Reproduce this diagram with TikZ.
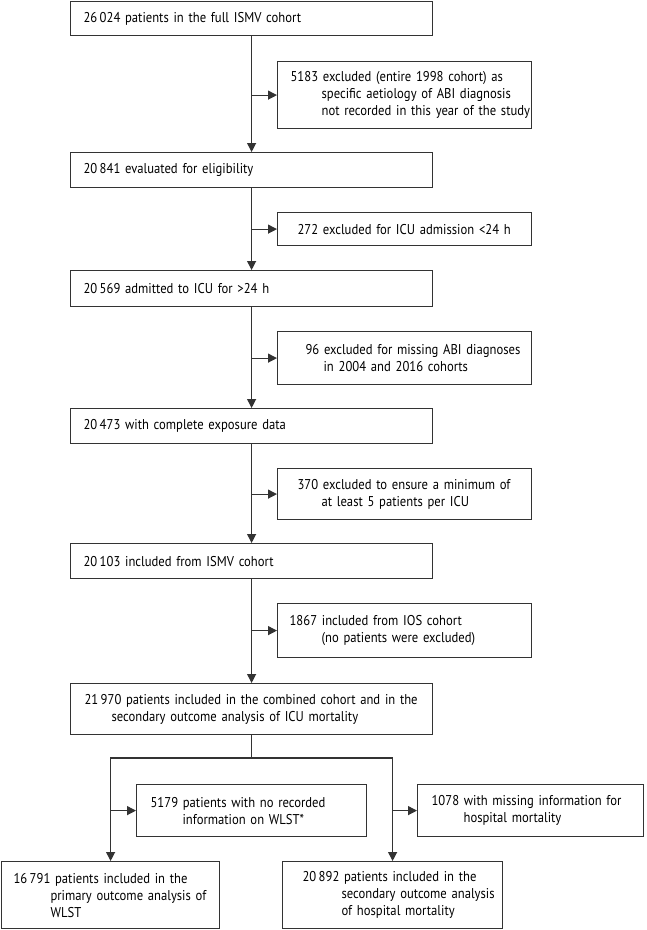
\documentclass[tikz,border=0pt]{standalone}
\usepackage{fontspec}
\setmainfont[FakeStretch=0.89]{PT Sans}
\usetikzlibrary{arrows.meta}
\newcommand{\txtline}[2]{\mbox{\hspace*{#1pt}#2}}
\begin{document}
\begin{tikzpicture}[x=1pt,y=-1pt,
  box/.style={draw=black!80, line width=1.2pt, anchor=north west, inner xsep=0pt, inner ysep=0pt, align=left, font=\fontsize{14.2}{17}\selectfont},
  arr/.style={draw=black!80, line width=1.2pt, -{Triangle[length=9pt,width=9pt]}},
  ln/.style={draw=black!80, line width=1.2pt}]
\useasboundingbox (0,0) rectangle (647,930);

\node[box, minimum width=362pt, minimum height=34.3pt, text width=362pt] (b1) at (70,0.7) {\txtline{13}{26\,024 patients in the full ISMV cohort}};
\node[box, minimum width=254pt, minimum height=67pt, text width=254pt] (e1) at (277,61) {\txtline{13}{5183 excluded (entire 1998 cohort) as}\\\txtline{44}{specific aetiology of ABI diagnosis}\\\txtline{44}{not recorded in this year of the study}};
\node[box, minimum width=362pt, minimum height=35pt, text width=362pt] (b2) at (70,152) {\txtline{13}{20\,841 evaluated for eligibility}};
\node[box, minimum width=254pt, minimum height=33pt, text width=254pt] (e2) at (277,212) {\txtline{20}{272 excluded for ICU admission <24 h}};
\node[box, minimum width=362pt, minimum height=36pt, text width=362pt] (b3) at (70,270) {\txtline{13}{20\,569 admitted to ICU for >24 h}};
\node[box, minimum width=254pt, minimum height=53pt, text width=254pt] (e3) at (277,331) {\txtline{28}{96 excluded for missing ABI diagnoses}\\\txtline{46}{in 2004 and 2016 cohorts}};
\node[box, minimum width=362pt, minimum height=35pt, text width=362pt] (b4) at (70,408) {\txtline{13}{20\,473 with complete exposure data}};
\node[box, minimum width=254pt, minimum height=51pt, text width=254pt] (e4) at (277,468) {\txtline{20}{370 excluded to ensure a minimum of}\\\txtline{44}{at least 5 patients per ICU}};
\node[box, minimum width=362pt, minimum height=35pt, text width=362pt] (b5) at (70,543) {\txtline{13}{20\,103 included from ISMV cohort}};
\node[box, minimum width=254pt, minimum height=54pt, text width=254pt] (e5) at (277,603) {\txtline{12}{1867 included from IOS cohort}\\\txtline{44}{(no patients were excluded)}};
\node[box, minimum width=362pt, minimum height=51pt, text width=362pt] (b6) at (70,683) {\txtline{14}{21\,970 patients included in the combined cohort and in the}\\\txtline{41}{secondary outcome analysis of ICU mortality}};
\node[box, minimum width=230pt, minimum height=52pt, text width=230pt] (w) at (136,784) {\txtline{14}{5179 patients with no recorded}\\\txtline{46}{information on WLST*}};
\node[box, minimum width=226pt, minimum height=52pt, text width=226pt] (h) at (417,784) {\txtline{14}{1078 with missing information for}\\\txtline{46}{hospital mortality}};
\node[box, minimum width=218pt, minimum height=67pt, text width=218pt] (bl) at (1,861) {\txtline{12}{16\,791 patients included in the}\\\txtline{49}{primary outcome analysis of}\\\txtline{49}{WLST}};
\node[box, minimum width=220pt, minimum height=67pt, text width=220pt] (br) at (282,861) {\txtline{20}{20\,892 patients included in the}\\\txtline{59}{secondary outcome analysis}\\\txtline{59}{of hospital mortality}};

\draw[arr] (b1) -- (b2);
\draw[arr] (b1.south |- e1.west) -- (e1.west);
\draw[arr] (b2) -- (b3);
\draw[arr] (b2.south |- e2.west) -- (e2.west);
\draw[arr] (b3) -- (b4);
\draw[arr] (b3.south |- e3.west) -- (e3.west);
\draw[arr] (b4) -- (b5);
\draw[arr] (b4.south |- e4.west) -- (e4.west);
\draw[arr] (b5) -- (b6);
\draw[arr] (b5.south |- e5.west) -- (e5.west);

\coordinate (split) at (b6.south |- 0,758);
\draw[ln] (b6.south) -- (split);
\draw[arr] (split) -| (bl.north);
\draw[arr] (split) -| (br.north);
\draw[arr] (bl.north |- w.west) -- (w.west);
\draw[arr] (br.north |- h.west) -- (h.west);
\end{tikzpicture}
\end{document}
